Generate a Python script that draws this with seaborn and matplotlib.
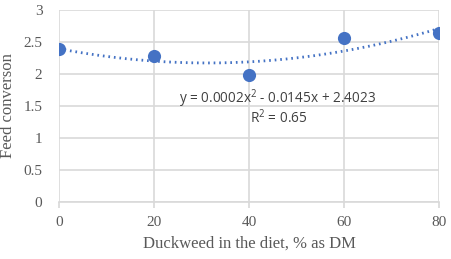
import numpy as np
import pandas as pd
import matplotlib
matplotlib.use("Agg")
import matplotlib.pyplot as plt
import seaborn as sns

duckweed = [0, 20, 40, 60, 80]
feed_conv = [2.39, 2.28, 1.98, 2.56, 2.645]
x_ticks = [0, 20, 40, 60, 80]
y_ticks = [0, 0.5, 1, 1.5, 2, 2.5, 3]
y_tick_labels = ["0", "0.5", "1", "1.5", "2", "2.5", "3"]
eq_text = "y = 0.0002x$^2$ - 0.0145x + 2.4023"
r2_text = "R$^2$ = 0.65"

sns.set_theme(style="white")
plt.rcParams["font.family"] = ["Liberation Serif", "DejaVu Serif"]
plt.rcParams["mathtext.fontset"] = "custom"
plt.rcParams["mathtext.rm"] = "Open Sans"

df = pd.DataFrame({"x": duckweed, "y": feed_conv})
blue = "#4472C4"
grid_c = "#D9D9D9"

fig = plt.figure(figsize=(4.51, 2.59), dpi=100)
ax = fig.add_axes([59/451, 1-202/259, 380/451, 192/259])

# polynomial trendline
coef = np.polyfit(df["x"], df["y"], 2)
xs = np.linspace(0, 80, 200)
trend = pd.DataFrame({"x": xs, "y": np.polyval(coef, xs)})
sns.lineplot(data=trend, x="x", y="y", ax=ax, color=blue, linewidth=2,
             linestyle=(0, (0.6, 1.4)), zorder=3)
sns.scatterplot(data=df, x="x", y="y", ax=ax, color=blue, s=90,
                edgecolor=blue, linewidth=0, zorder=4)

ax.set_xlim(0, 80)
ax.set_ylim(0, 3)
ax.set_xticks(x_ticks)
ax.set_yticks(y_ticks)
ax.set_yticklabels(y_tick_labels)
ax.grid(True, color=grid_c, linewidth=1.2)
ax.set_axisbelow(True)
for s in ["top", "right", "left"]:
    ax.spines[s].set_visible(False)
ax.spines["bottom"].set_color(grid_c)
ax.spines["bottom"].set_linewidth(1.2)
ax.tick_params(axis="x", which="both", bottom=True, length=4, color=grid_c,
               labelsize=11, labelcolor="#595959", pad=6)
ax.tick_params(axis="y", left=False, labelsize=11, labelcolor="#595959", pad=6)
ax.set_xlabel("Duckweed in the diet, % as DM", fontsize=12, color="#595959", labelpad=5)
ax.set_ylabel("Feed converson", fontsize=12, color="#595959", labelpad=5)

ax.text(0.576, 0.536, eq_text, transform=ax.transAxes, ha="center", va="center",
        fontsize=9.8, family="Open Sans", color="#404040")
ax.text(0.578, 0.4375, r2_text, transform=ax.transAxes, ha="center", va="center",
        fontsize=9.8, family="Open Sans", color="#404040")

fig.savefig("out.png", dpi=100)
